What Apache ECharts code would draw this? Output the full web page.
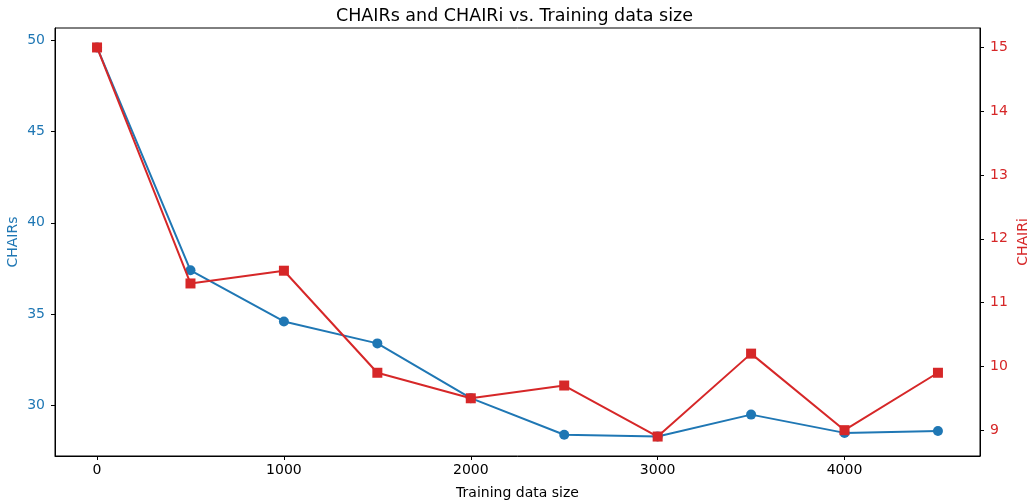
<!DOCTYPE html>
<html>
<head>
<meta charset="utf-8">
<script src="https://cdn.jsdelivr.net/npm/echarts@6/dist/echarts.min.js"></script>
<style>
html,body{margin:0;padding:0;background:#fff;}
#chart{width:1029px;height:501px;}
</style>
</head>
<body>
<div id="chart"></div>
<script>
var trainingSize = [0, 500, 1000, 1500, 2000, 2500, 3000, 3500, 4000, 4500];
var chairS = [49.6, 37.4, 34.6, 33.4, 30.4, 28.4, 28.3, 29.5, 28.5, 28.6];
var chairI = [15.0, 11.3, 11.5, 9.9, 9.5, 9.7, 8.9, 10.2, 9.0, 9.9];
var xTicks = [0, 1000, 2000, 3000, 4000];
var leftTicks = [30, 35, 40, 45, 50];
var rightTicks = [9, 10, 11, 12, 13, 14, 15];

var blue = '#1f77b4', red = '#d62728';
var font = 'DejaVu Sans';

function pairs(xs, ys) { return xs.map(function (x, i) { return [x, ys[i]]; }); }
function plain(v) { return String(v); }

var chart = echarts.init(document.getElementById('chart'), null, {renderer: 'canvas'});
chart.setOption({
  animation: false,
  backgroundColor: '#fff',
  title: {
    text: 'CHAIRs and CHAIRi vs. Training data size',
    left: 'center', top: 2,
    textStyle: {fontFamily: font, fontSize: 17.5, fontWeight: 'normal', color: '#000'}
  },
  grid: {left: 55, right: 49, top: 28, bottom: 45, containLabel: false, outerBoundsMode: 'none',
         show: true, borderColor: '#000', borderWidth: 1, backgroundColor: 'transparent'},
  xAxis: {
    type: 'value', min: -225, max: 4725,
    name: 'Training data size', nameLocation: 'middle', nameGap: 30, nameMoveOverlap: false,
    nameTextStyle: {fontFamily: font, fontSize: 14, color: '#000'},
    axisLine: {show: true, onZero: false, lineStyle: {color: '#000', width: 1}},
    axisTick: {show: true, length: 4, inside: false, customValues: xTicks, lineStyle: {color: '#000'}},
    axisLabel: {customValues: xTicks, formatter: plain, fontFamily: font, fontSize: 14, color: '#000', margin: 7},
    splitLine: {show: false}
  },
  yAxis: [{
    type: 'value', position: 'left', min: 27.235, max: 50.665,
    name: 'CHAIRs', nameLocation: 'middle', nameGap: 35, nameRotate: 90, nameMoveOverlap: false,
    nameTextStyle: {fontFamily: font, fontSize: 14, color: blue},
    axisLine: {show: true, onZero: false, lineStyle: {color: '#000', width: 1}},
    axisTick: {show: true, length: 4, customValues: leftTicks, lineStyle: {color: '#000'}},
    axisLabel: {customValues: leftTicks, formatter: plain, fontFamily: font, fontSize: 14, color: blue, margin: 10},
    splitLine: {show: false}
  }, {
    type: 'value', position: 'right', min: 8.595, max: 15.305,
    name: 'CHAIRi', nameLocation: 'middle', nameGap: 36, nameRotate: 90, nameMoveOverlap: false,
    nameTextStyle: {fontFamily: font, fontSize: 14, color: red},
    axisLine: {show: true, onZero: false, lineStyle: {color: '#000', width: 1}},
    axisTick: {show: true, length: 4, customValues: rightTicks, lineStyle: {color: '#000'}},
    axisLabel: {customValues: rightTicks, formatter: plain, fontFamily: font, fontSize: 14, color: red, margin: 10},
    splitLine: {show: false}
  }],
  series: [{
    name: 'CHAIRs', type: 'line', yAxisIndex: 0, z: 2,
    data: pairs(trainingSize, chairS),
    symbol: 'circle', symbolSize: 10,
    lineStyle: {color: blue, width: 2},
    itemStyle: {color: blue, borderWidth: 0}
  }, {
    name: 'CHAIRi', type: 'line', yAxisIndex: 1, z: 3,
    data: pairs(trainingSize, chairI),
    symbol: 'rect', symbolSize: 10,
    lineStyle: {color: red, width: 2},
    itemStyle: {color: red, borderWidth: 0}
  }]
});
</script>
</body>
</html>
